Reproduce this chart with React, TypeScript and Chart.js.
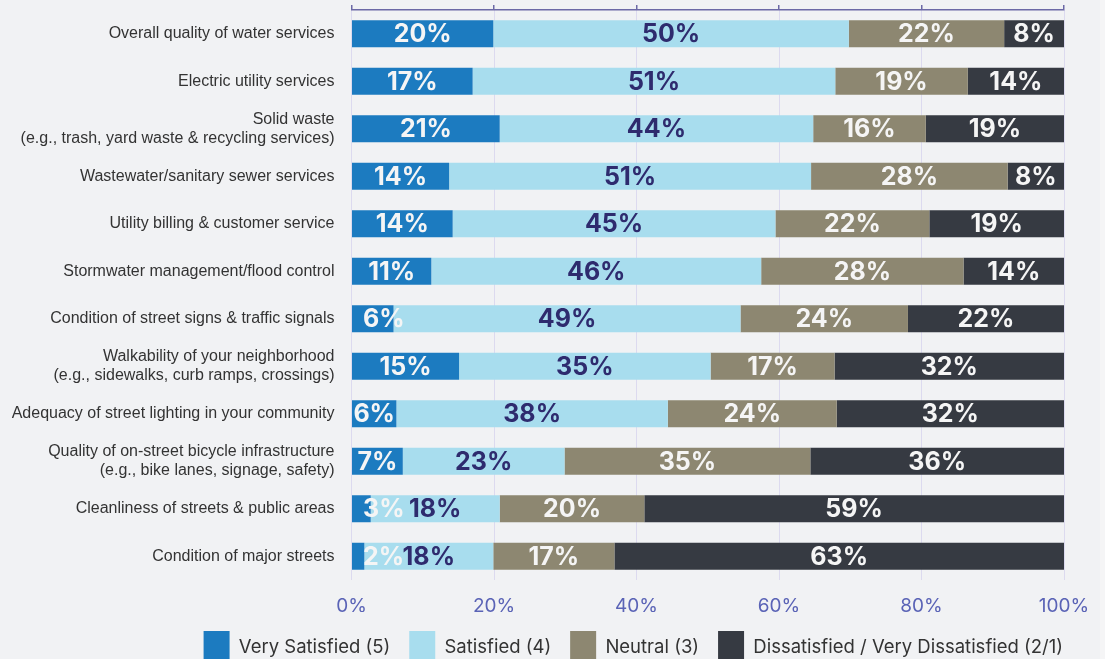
import React, { useEffect, useRef } from "react";
import { Chart, registerables } from "chart.js";

Chart.register(...registerables);

const categories: (string | string[])[] = [
  "Overall quality of water services",
  "Electric utility services",
  ["Solid waste", "(e.g., trash, yard waste & recycling services)"],
  "Wastewater/sanitary sewer services",
  "Utility billing & customer service",
  "Stormwater management/flood control",
  "Condition of street signs & traffic signals",
  ["Walkability of your neighborhood", "(e.g., sidewalks, curb ramps, crossings)"],
  "Adequacy of street lighting in your community",
  ["Quality of on-street bicycle infrastructure", "(e.g., bike lanes, signage, safety)"],
  "Cleanliness of streets & public areas",
  "Condition of major streets",
];

const seriesNames = [
  "Very Satisfied (5)",
  "Satisfied (4)",
  "Neutral (3)",
  "Dissatisfied / Very Dissatisfied (2/1)",
];

const verySatisfied = [19.9, 17.0, 20.8, 13.7, 14.2, 11.2, 5.9, 15.1, 6.3, 7.2, 2.7, 1.8];
const satisfied = [49.9, 50.9, 44.0, 50.8, 45.3, 46.3, 48.7, 35.3, 38.1, 22.7, 18.1, 18.1];
const neutral = [21.8, 18.6, 15.8, 27.6, 21.6, 28.4, 23.5, 17.4, 23.7, 34.5, 20.3, 17.0];
const dissatisfied = [8.4, 13.5, 19.4, 7.9, 18.9, 14.1, 21.9, 32.2, 31.9, 35.6, 58.9, 63.1];

const xTicks = [0, 20, 40, 60, 80, 100];

const barColors = ["#1c7bc0", "#a8ddee", "#8d8771", "#363a42"];
const labelColors = ["#f5f5f5", "#2e2b6e", "#f5f5f5", "#f5f5f5"];

const segLabels = {
  id: "segLabels",
  afterDatasetsDraw(chart: any) {
    const ctx = chart.ctx as CanvasRenderingContext2D;
    ctx.save();
    ctx.font = "700 25px Inter";
    ctx.textBaseline = "middle";
    ctx.textAlign = "left";
    chart.data.datasets.forEach((ds: any, di: number) => {
      const meta = chart.getDatasetMeta(di);
      meta.data.forEach((el: any, i: number) => {
        const v = ds.data[i] as number;
        const txt = Math.round(v) + "%";
        const w = ctx.measureText(txt).width;
        const start = Math.min(el.x, el.base);
        const end = Math.max(el.x, el.base);
        let left = (start + end) / 2 - w / 2;
        if (w > end - start) left = start + 11;
        ctx.fillStyle = labelColors[di];
        ctx.fillText(txt, left, el.y + 1);
      });
    });
    ctx.restore();
  },
};

export default function App() {
  const ref = useRef<HTMLCanvasElement | null>(null);

  useEffect(() => {
    if (!ref.current) return;
    const values = [verySatisfied, satisfied, neutral, dissatisfied];
    const chart = new Chart(ref.current, {
      type: "bar",
      data: {
        labels: categories as any,
        datasets: seriesNames.map((name, i) => ({
          label: name,
          data: values[i],
          backgroundColor: barColors[i],
          borderWidth: 0,
          categoryPercentage: 1,
          barPercentage: 0.57,
        })),
      },
      options: {
        indexAxis: "y",
        responsive: false,
        animation: false,
        devicePixelRatio: 1,
        layout: { padding: { top: 5, left: 11.5, right: 18, bottom: 0 } },
        scales: {
          x: {
            position: "bottom",
            stacked: true,
            min: 0,
            max: 100,
            afterBuildTicks: (scale: any) => {
              scale.ticks = xTicks.map((v) => ({ value: v }));
            },
            afterFit: (scale: any) => {
              scale.paddingRight = 36;
              scale.paddingLeft = 0;
              scale.paddingTop = 0;
              scale.paddingBottom = 0;
              scale.height = 32;
            },
            grid: { color: "#dcdaef", lineWidth: 1, drawTicks: false },
            border: { display: false },
            ticks: {
              color: "#5a63b6",
              padding: 20,
              font: { family: "Inter", size: 19, lineHeight: "12px" as any },
              callback: (v: any) => v + "%",
            },
          },
          x2: {
            axis: "x",
            type: "linear",
            position: "top",
            min: 0,
            max: 100,
            afterBuildTicks: (scale: any) => {
              scale.ticks = xTicks.map((v) => ({ value: v }));
            },
            afterFit: (scale: any) => {
              scale.paddingRight = 0;
              scale.paddingLeft = 0;
              scale.paddingTop = 0;
              scale.paddingBottom = 0;
            },
            grid: { drawOnChartArea: false, drawTicks: true, tickLength: 5, color: "#6c69a6", lineWidth: 1.5 },
            border: { display: true, color: "#6c69a6", width: 1.5 },
            ticks: { display: false },
          },
          y: {
            stacked: true,
            afterFit: (scale: any) => {
              scale.width = 340;
              scale.paddingTop = 0;
              scale.paddingBottom = 0;
            },
            grid: { display: false, drawTicks: false },
            border: { display: false },
            ticks: {
              color: "#333333",
              padding: 17,
              font: { family: "Liberation Sans", size: 16, lineHeight: 1.2 },
            },
          },
        },
        plugins: {
          legend: {
            position: "bottom",
            align: "end",
            labels: {
              boxWidth: 26,
              boxHeight: 32,
              padding: 19,
              color: "#333333",
              font: { family: "Inter", size: 18.5 },
            },
          },
          tooltip: { enabled: false },
        },
      } as any,
      plugins: [segLabels],
    });
    return () => chart.destroy();
  }, []);

  return (
    <div
      style={{
        position: "fixed",
        left: 0,
        top: 0,
        width: 1105,
        height: 659,
        overflow: "hidden",
        background: "#f5f5f6",
      }}
    >
      <div style={{ width: 1100, height: 673, background: "#f1f2f4" }}>
        <canvas ref={ref} width={1100} height={673} style={{ display: "block" }} />
      </div>
    </div>
  );
}
